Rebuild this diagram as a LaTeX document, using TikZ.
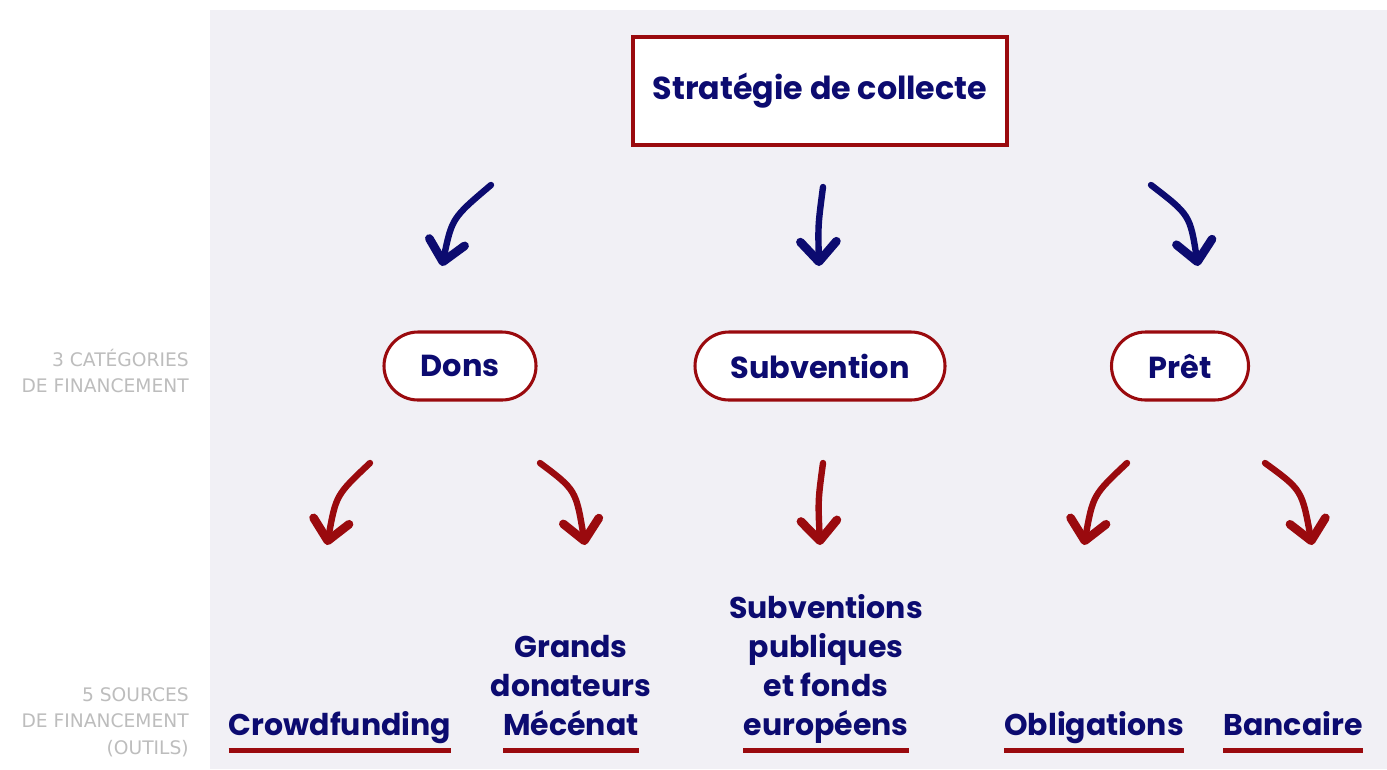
\documentclass[tikz,border=0pt]{standalone}
\usepackage{fontspec}
\setmainfont{Poppins}
\newfontfamily\sidefont{DejaVu Sans}
\usetikzlibrary{arrows.meta,shapes.misc}
\definecolor{navy}{HTML}{0C0B70}
\definecolor{wine}{HTML}{9A0A0E}
\definecolor{panel}{HTML}{F1F0F5}
\definecolor{sidegrey}{HTML}{BDBDBD}
\begin{document}
\begin{tikzpicture}[x=0.75pt,y=-0.75pt,
  mainbox/.style={draw=wine, line width=2.3pt, fill=white, text=navy,
    minimum width=280.5pt, minimum height=81pt, inner sep=0pt,
    font=\bfseries\fontsize{23.8}{27}\selectfont},
  pill/.style={draw=wine, line width=2.3pt, fill=white, text=navy, rounded rectangle,
    minimum height=51pt, inner sep=0pt, font=\bfseries\fontsize{22.8}{27}\selectfont},
  src/.style={text=navy, inner sep=0pt, font=\bfseries\fontsize{22.5}{29}\selectfont},
  uline/.style={draw=wine, line width=3.4pt},
  side/.style={text=sidegrey, align=right, anchor=east, inner sep=0pt,
    font=\sidefont\fontsize{14}{20}\selectfont},
  harrow/.style={line width=4.8pt, line cap=round,
    -{Straight Barb[length=15pt, width=27pt, line width=6.5pt, round]}},
  navyarrow/.style={harrow, draw=navy},
  redarrow/.style={harrow, draw=wine}]
\useasboundingbox (0,0) rectangle (1387,769);
\fill[white] (0,0) rectangle (1387,769);
\fill[panel] (210,10) rectangle (1387,769);

% top
\node[mainbox] (top) at (820,91) {Stratégie de collecte};

% categories
\node[pill, minimum width=114pt] (dons) at (460,366) {Dons};
\node[pill, minimum width=187.5pt] (subv) at (820,366) {Subvention};
\node[pill, minimum width=102.75pt] (pret) at (1180,366) {Prêt};

% navy arrows
\coordinate (n1s) at (491,185); \coordinate (n1c) at (452,218); \coordinate (n1e) at (442,266);
\coordinate (n2s) at (823,187); \coordinate (n2c) at (818,225); \coordinate (n2e) at (819,266);
\coordinate (n3s) at (1151,185); \coordinate (n3c) at (1190,215); \coordinate (n3e) at (1198,266);
\draw[navyarrow] (n1s) .. controls (n1c) .. (n1e);
\draw[navyarrow] (n2s) .. controls (n2c) .. (n2e);
\draw[navyarrow] (n3s) .. controls (n3c) .. (n3e);

% red arrows
\coordinate (r1s) at (370,463); \coordinate (r1c) at (336,495); \coordinate (r1e) at (327,545);
\coordinate (r2s) at (540,463); \coordinate (r2c) at (576,490); \coordinate (r2e) at (585,545);
\coordinate (r3s) at (823,463); \coordinate (r3c) at (818,500); \coordinate (r3e) at (820,545);
\coordinate (r4s) at (1127,463); \coordinate (r4c) at (1093,495); \coordinate (r4e) at (1084,545);
\coordinate (r5s) at (1265,463); \coordinate (r5c) at (1302,490); \coordinate (r5e) at (1312,545);
\draw[redarrow] (r1s) .. controls (r1c) .. (r1e);
\draw[redarrow] (r2s) .. controls (r2c) .. (r2e);
\draw[redarrow] (r3s) .. controls (r3c) .. (r3e);
\draw[redarrow] (r4s) .. controls (r4c) .. (r4e);
\draw[redarrow] (r5s) .. controls (r5c) .. (r5e);

% sources
\node[src, anchor=base] (crowd) at (340,735) {Crowdfunding};
\node[src, anchor=base] (mecenat) at (571,735) {Mécénat};
\node[src, anchor=south, align=center, text depth=0pt] (grands) at ([yshift=29pt]mecenat.base) {Grands\\donateurs};
\node[src, anchor=base] (europ) at (826,735) {européens};
\node[src, anchor=south, align=center, text depth=0pt] (subvp) at ([yshift=29pt]europ.base) {Subventions\\publiques\\et fonds};
\node[src, anchor=base] (oblig) at (1094,735) {Obligations};
\node[src, anchor=base] (banc) at (1293,735) {Bancaire};
\foreach \n in {crowd,mecenat,europ,oblig,banc}{
  \draw[uline] ([yshift=-11.5pt]\n.base west) -- ([yshift=-11.5pt]\n.base east);
}

% side labels
\node[side] (cat) at (189,371) {3 CATÉGORIES\\DE FINANCEMENT};
\node[side] (srcs) at (189,722) {5 SOURCES\\DE FINANCEMENT\\(OUTILS)};
\end{tikzpicture}
\end{document}
